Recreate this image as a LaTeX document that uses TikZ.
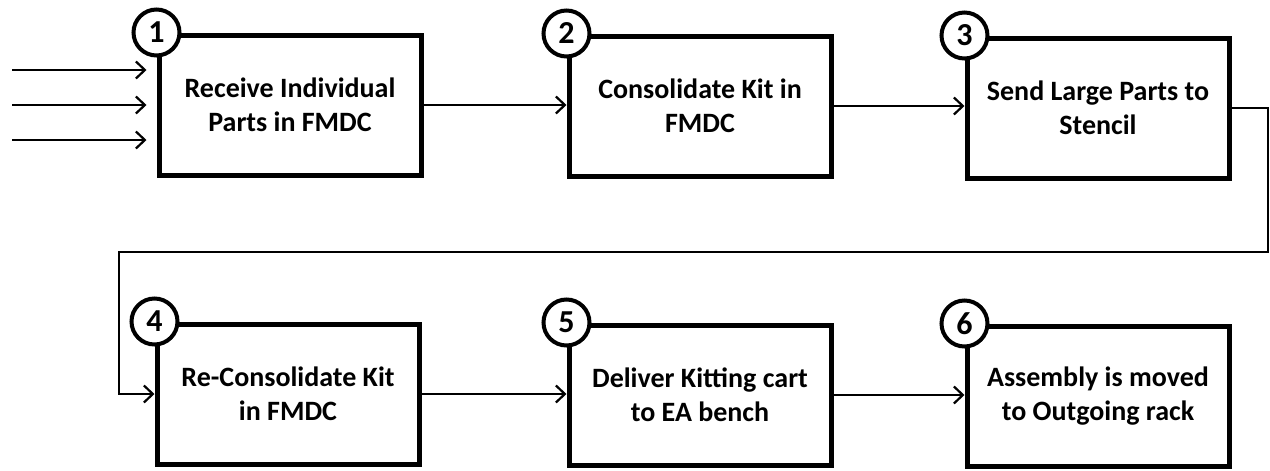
\documentclass[tikz,border=0pt]{standalone}
\usepackage{fontspec}
\setmainfont{Carlito}
\usetikzlibrary{arrows.meta}
\begin{document}
\begin{tikzpicture}[x=1pt,y=-1pt,
  stepbox/.style={draw, line width=5pt, rectangle, minimum width=262pt,
    minimum height=140pt, align=center, inner sep=4pt,
    font=\fontsize{28}{34}\selectfont\bfseries},
  numdisc/.style={draw, line width=4pt, circle, fill=white, minimum size=46pt,
    inner sep=0pt, font=\fontsize{32}{32}\selectfont\bfseries},
  flow/.style={line width=2.2pt, -{Straight Barb[length=9pt,width=17pt,line width=2.2pt]}}
]
\useasboundingbox (0,0) rectangle (1270,471);

% process steps
\node[stepbox] (s1) at (290,105) {Receive Individual\\Parts in FMDC};
\node[stepbox] (s2) at (700,106) {Consolidate Kit in\\FMDC};
\node[stepbox] (s3) at (1098,108) {Send Large Parts to\\Stencil};
\node[stepbox] (s4) at (288,394) {Re-Consolidate Kit\\in FMDC};
\node[stepbox] (s5) at (700,395) {Deliver Kitting cart\\to EA bench};
\node[stepbox] (s6) at (1098,396) {Assembly is moved\\to Outgoing rack};

% step numbers on the top-left corners
\node[numdisc] (n1) at (s1.north west) {1};
\node[numdisc] (n2) at (s2.north west) {2};
\node[numdisc] (n3) at (s3.north west) {3};
\node[numdisc] (n4) at (s4.north west) {4};
\node[numdisc] (n5) at (s5.north west) {5};
\node[numdisc] (n6) at (s6.north west) {6};

% incoming parts
\coordinate (in1) at (12,70);
\coordinate (in2) at (12,105);
\coordinate (in3) at (12,140);
\draw[flow, shorten >=10pt] (in1) -- (in1 -| s1.west);
\draw[flow, shorten >=10pt] (in2) -- (in2 -| s1.west);
\draw[flow, shorten >=10pt] (in3) -- (in3 -| s1.west);

% top row
\draw[flow] (s1.east) -- (s1.east -| s2.west);
\draw[flow] (s2.east) -- (s2.east -| s3.west);

% return loop from step 3 to step 4
\coordinate (r1) at (1268,252);
\coordinate (r2) at (119,252);
\draw[flow] (s3.east) -| (r1) -- (r2) |- (s4.west);

% bottom row
\draw[flow] (s4.east) -- (s4.east -| s5.west);
\draw[flow] (s5.east) -- (s5.east -| s6.west);
\end{tikzpicture}
\end{document}
